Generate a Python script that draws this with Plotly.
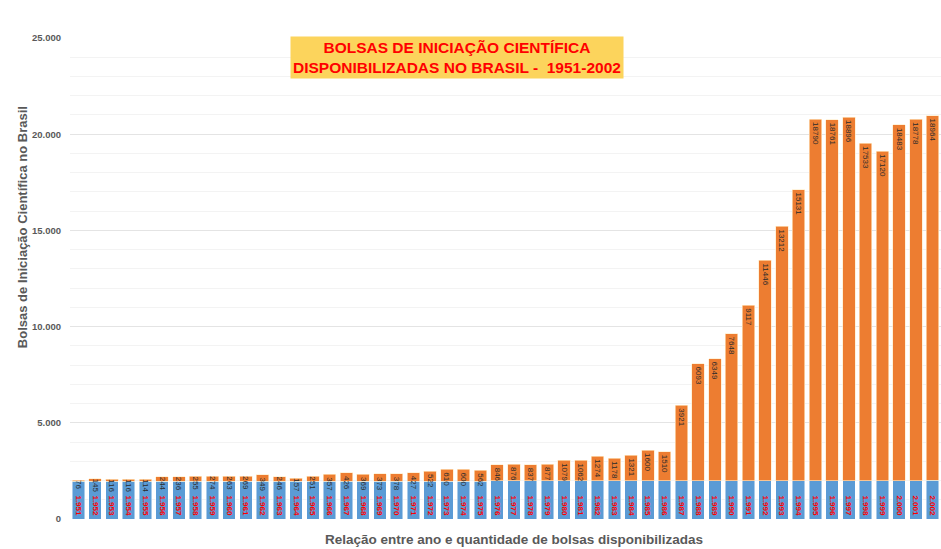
import plotly.graph_objects as go

# Ano de referência (série azul) e quantidade de bolsas (série laranja)
anos = list(range(1951, 2003))
bolsas = [
    76, 145, 116, 116, 114, 244, 236, 255, 274, 263,
    269, 349, 246, 157, 251, 357, 426, 369, 373, 378,
    427, 522, 610, 600, 562, 846, 876, 837, 877, 1079,
    1062, 1274, 1178, 1321, 1600, 1510, 3921, 6093, 6349, 7648,
    9117, 11446, 13212, 15131, 18790, 18761, 18896, 17533, 17120, 18483,
    18778, 18964,
]
y_ticks = [0, 5000, 10000, 15000, 20000, 25000]

titulo = "BOLSAS DE INICIAÇÃO CIENTÍFICA<br>DISPONIBILIZADAS NO BRASIL -  1951-2002"
titulo_y = "Bolsas de Iniciação Científica no Brasil"
titulo_x = "Relação entre ano e quantidade de bolsas disponibilizadas"


def milhar(v):
    return f"{v:,}".replace(",", ".")


rotulos_ano = [milhar(a) for a in anos]
rotulos_bolsas = [str(b) for b in bolsas]

fig = go.Figure()
fig.add_trace(go.Bar(
    x=anos, y=anos, name="Ano",
    marker=dict(color="#5B9BD5", line=dict(color="rgba(255,255,255,0.6)", width=0.8)),
    text=rotulos_ano, textposition="inside", insidetextanchor="start",
    textangle=90, constraintext="none",
    textfont=dict(family="Arial", size=8, color="#FF0000", weight="bold"),
    hoverinfo="skip",
))
fig.add_trace(go.Bar(
    x=anos, y=bolsas, name="Bolsas",
    marker=dict(color="#ED7D31", line=dict(color="rgba(255,236,200,0.8)", width=0.8)),
    text=rotulos_bolsas, textposition="inside", insidetextanchor="end",
    textangle=90, constraintext="none",
    textfont=dict(family="Arial", size=8, color="#2B2B2B"),
    hoverinfo="skip",
))

fig.update_layout(
    barmode="stack",
    bargap=0.26,
    width=941, height=549,
    margin=dict(l=70, r=0, t=38, b=30),
    paper_bgcolor="white", plot_bgcolor="white",
    showlegend=False,
    separators=",.",
    font=dict(family="Arial"),
    xaxis=dict(
        range=[anos[0] - 0.5, anos[-1] + 0.5],
        showticklabels=False, showgrid=False, zeroline=False, ticks="",
    ),
    yaxis=dict(
        range=[0, 25000],
        tickvals=y_ticks,
        tickformat=",d",
        tickfont=dict(family="Arial", size=9.5, color="#595959", weight="bold"),
        showgrid=True, gridcolor="#E4E4E4", gridwidth=1,
        minor=dict(dtick=1000, showgrid=True, gridcolor="#F3F3F3", gridwidth=1),
        zeroline=False, ticks="", ticklabelstandoff=8,
    ),
    annotations=[
        dict(
            text=titulo, xref="paper", yref="paper", x=0.444, y=0.96,
            xanchor="center", yanchor="middle", showarrow=False,
            font=dict(family="Arial", size=15.5, color="#FF0000", weight="bold"),
            bgcolor="#FCD45C", borderpad=2, align="center",
        ),
        dict(
            text=titulo_y, xref="paper", yref="paper", x=-0.055, y=0.607,
            xanchor="center", yanchor="middle", showarrow=False, textangle=-90,
            font=dict(family="Arial", size=13, color="#595959", weight="bold"),
        ),
        dict(
            text=titulo_x, xref="paper", yref="paper", x=0.51, y=-0.042,
            xanchor="center", yanchor="middle", showarrow=False,
            font=dict(family="Arial", size=13.5, color="#595959", weight="bold"),
        ),
    ],
)

fig.write_html("out.html")
